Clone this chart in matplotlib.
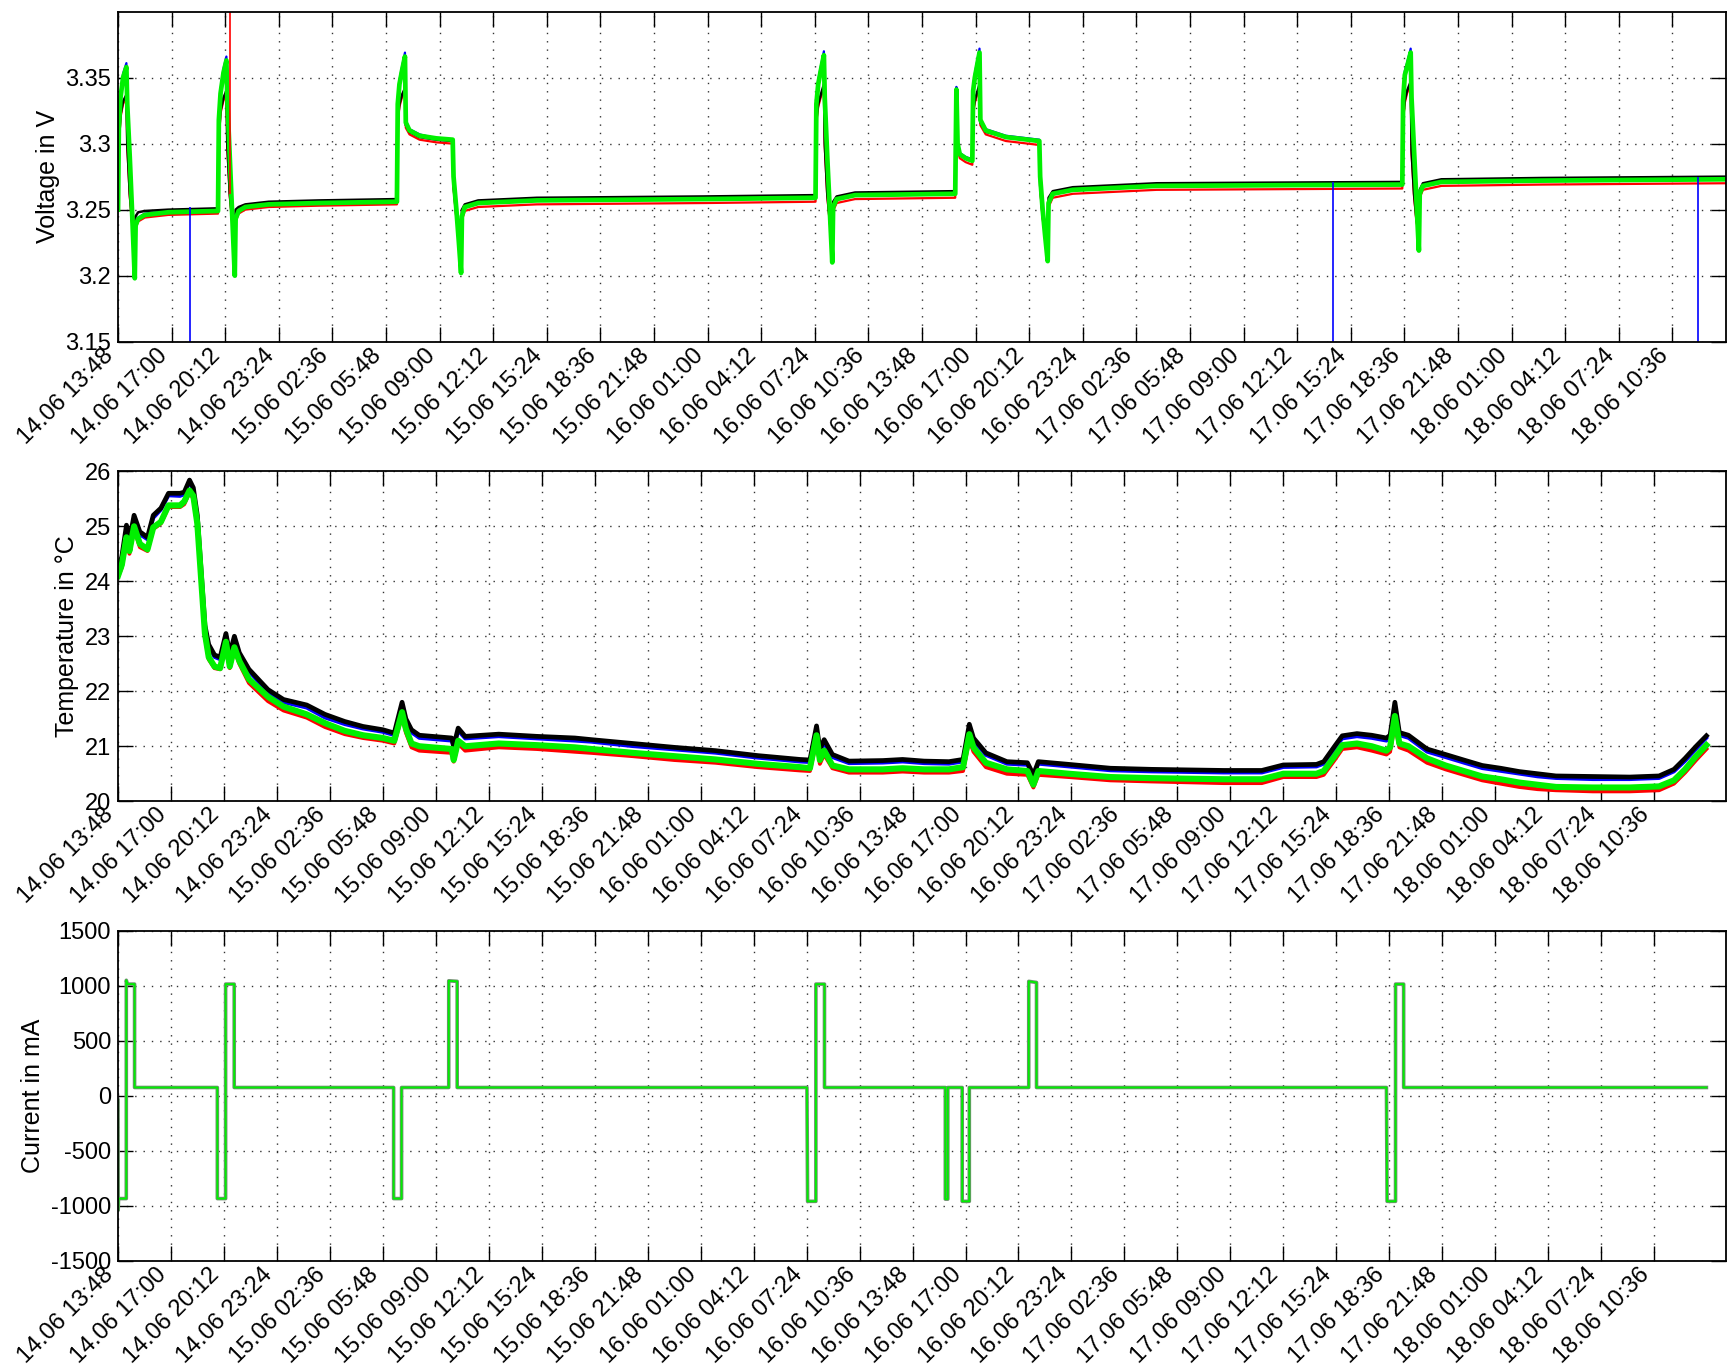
import matplotlib
matplotlib.use("Agg")
import matplotlib.pyplot as plt

plt.rcParams['font.family'] = ['Liberation Sans', 'DejaVu Sans']
plt.rcParams['axes.unicode_minus'] = False

# ---------------------------------------------------------------------------
# Time axis: hours since 14.06 13:48, ticks every 3 h 12 min
# ---------------------------------------------------------------------------
tick_labels = ["14.06 13:48", "14.06 17:00", "14.06 20:12", "14.06 23:24",
               "15.06 02:36", "15.06 05:48", "15.06 09:00", "15.06 12:12",
               "15.06 15:24", "15.06 18:36", "15.06 21:48", "16.06 01:00",
               "16.06 04:12", "16.06 07:24", "16.06 10:36", "16.06 13:48",
               "16.06 17:00", "16.06 20:12", "16.06 23:24", "17.06 02:36",
               "17.06 05:48", "17.06 09:00", "17.06 12:12", "17.06 15:24",
               "17.06 18:36", "17.06 21:48", "18.06 01:00", "18.06 04:12",
               "18.06 07:24", "18.06 10:36"]
tick_step_h = 3.2

# ---------------------------------------------------------------------------
# Cell voltages (V)
# ---------------------------------------------------------------------------
v_hours = [0.00, 0.05, 0.15, 0.30, 0.50, 0.55, 0.70, 0.85, 1.00, 1.05,
           1.20, 1.60, 3.00, 5.97, 6.02, 6.12, 6.30, 6.47, 6.52, 6.67,
           6.82, 6.97, 7.02, 7.20, 7.60, 9.00, 12.0, 16.65, 16.70, 16.80,
           16.95, 17.13, 17.18, 17.40, 18.00, 19.00, 19.98, 20.03, 20.20, 20.35,
           20.48, 20.53, 20.70, 21.50, 25.00, 35.00, 41.64, 41.69, 41.80, 41.95,
           42.14, 42.19, 42.34, 42.49, 42.64, 42.69, 42.90, 44.00, 49.98, 50.05,
           50.12, 50.25, 50.60, 51.00, 51.05, 51.15, 51.43, 51.48, 51.80, 53.00,
           55.00, 55.05, 55.20, 55.35, 55.50, 55.55, 55.80, 57.00, 62.00, 76.67,
           76.72, 76.82, 76.95, 77.17, 77.22, 77.37, 77.52, 77.66, 77.71, 77.90,
           79.00, 85.00, 96.00]

v_green = [3.250, 3.312, 3.335, 3.350, 3.358, 3.330, 3.290, 3.245, 3.198, 3.238,
           3.243, 3.246, 3.248, 3.249, 3.318, 3.338, 3.354, 3.363, 3.335, 3.290,
           3.245, 3.200, 3.243, 3.249, 3.252, 3.254, 3.255, 3.256, 3.330, 3.345,
           3.355, 3.366, 3.316, 3.310, 3.306, 3.304, 3.303, 3.275, 3.250, 3.225,
           3.202, 3.245, 3.252, 3.255, 3.257, 3.258, 3.259, 3.330, 3.345, 3.355,
           3.367, 3.335, 3.290, 3.250, 3.210, 3.252, 3.258, 3.261, 3.262, 3.341,
           3.300, 3.292, 3.289, 3.287, 3.340, 3.350, 3.369, 3.318, 3.310, 3.305,
           3.302, 3.275, 3.250, 3.230, 3.211, 3.255, 3.262, 3.265, 3.268, 3.269,
           3.333, 3.352, 3.358, 3.369, 3.335, 3.295, 3.255, 3.219, 3.262, 3.268,
           3.271, 3.272, 3.273]

v_black = [3.250, 3.300, 3.322, 3.332, 3.337, 3.300, 3.262, 3.240, 3.222, 3.245,
           3.248, 3.249, 3.250, 3.251, 3.305, 3.325, 3.335, 3.340, 3.300, 3.262,
           3.242, 3.225, 3.250, 3.252, 3.254, 3.256, 3.257, 3.258, 3.318, 3.330,
           3.337, 3.342, 3.314, 3.309, 3.305, 3.303, 3.302, 3.268, 3.245, 3.232,
           3.222, 3.250, 3.254, 3.257, 3.259, 3.260, 3.261, 3.318, 3.330, 3.337,
           3.345, 3.300, 3.262, 3.242, 3.225, 3.256, 3.260, 3.263, 3.264, 3.341,
           3.298, 3.292, 3.289, 3.288, 3.325, 3.333, 3.345, 3.316, 3.309, 3.305,
           3.302, 3.268, 3.245, 3.232, 3.224, 3.259, 3.264, 3.267, 3.270, 3.271,
           3.320, 3.333, 3.340, 3.347, 3.295, 3.262, 3.242, 3.236, 3.265, 3.270,
           3.273, 3.274, 3.275]

v_blue = [3.250, 3.315, 3.338, 3.353, 3.361, 3.332, 3.291, 3.246, 3.200, 3.239,
          3.244, 3.247, 3.249, 3.250, 3.321, 3.341, 3.357, 3.366, 3.337, 3.291,
          3.246, 3.202, 3.244, 3.250, 3.253, 3.255, 3.256, 3.257, 3.333, 3.348,
          3.358, 3.369, 3.317, 3.311, 3.307, 3.304, 3.303, 3.276, 3.251, 3.226,
          3.203, 3.246, 3.253, 3.256, 3.258, 3.259, 3.260, 3.333, 3.348, 3.358,
          3.370, 3.337, 3.291, 3.251, 3.211, 3.253, 3.259, 3.262, 3.263, 3.343,
          3.301, 3.293, 3.290, 3.288, 3.343, 3.353, 3.372, 3.319, 3.311, 3.306,
          3.303, 3.276, 3.251, 3.231, 3.212, 3.256, 3.263, 3.266, 3.269, 3.270,
          3.336, 3.355, 3.361, 3.372, 3.337, 3.296, 3.256, 3.220, 3.263, 3.269,
          3.272, 3.273, 3.274]

v_red = [3.250, 3.298, 3.320, 3.330, 3.335, 3.298, 3.260, 3.238, 3.220, 3.236,
         3.241, 3.244, 3.246, 3.247, 3.303, 3.323, 3.333, 3.338, 3.298, 3.260,
         3.240, 3.223, 3.241, 3.247, 3.250, 3.252, 3.253, 3.254, 3.316, 3.328,
         3.335, 3.340, 3.312, 3.307, 3.303, 3.301, 3.300, 3.266, 3.243, 3.230,
         3.220, 3.242, 3.249, 3.252, 3.254, 3.255, 3.256, 3.316, 3.328, 3.335,
         3.343, 3.298, 3.260, 3.240, 3.223, 3.249, 3.255, 3.258, 3.259, 3.339,
         3.296, 3.289, 3.286, 3.284, 3.323, 3.331, 3.343, 3.314, 3.307, 3.302,
         3.299, 3.266, 3.243, 3.230, 3.222, 3.252, 3.259, 3.262, 3.265, 3.266,
         3.318, 3.331, 3.338, 3.345, 3.293, 3.260, 3.240, 3.234, 3.259, 3.265,
         3.268, 3.269, 3.270]

# single-sample measurement glitches (time, from, to)
blue_glitch_hours = [4.32, 72.55, 94.35]
blue_glitch_from = [3.252, 3.271, 3.275]
blue_glitch_to = [3.10, 3.10, 3.10]
red_glitch_hours = [6.67]
red_glitch_from = [3.262]
red_glitch_to = [3.45]

# ---------------------------------------------------------------------------
# Cell temperatures (degC)
# ---------------------------------------------------------------------------
t_hours = [0.00, 0.23, 0.51, 0.69, 0.97, 1.32, 1.78, 2.13, 2.59, 3.05,
           3.75, 4.00, 4.32, 4.55, 4.79, 5.02, 5.25, 5.48, 5.83, 6.17,
           6.52, 6.75, 7.03, 7.33, 7.91, 9.06, 10.0, 11.4, 12.5, 13.7,
           14.8, 16.0, 16.69, 17.16, 17.39, 17.73, 18.2, 20.16, 20.28, 20.55,
           20.97, 23.0, 25.3, 27.6, 28.6, 31.1, 33.6, 36.1, 38.65, 41.2,
           41.8, 42.2, 42.4, 42.66, 43.16, 44.16, 46.2, 47.4, 48.7, 50.2,
           51.05, 51.43, 51.68, 52.43, 53.7, 54.94, 55.3, 55.6, 57.45, 59.96,
           62.45, 66.8, 69.1, 70.4, 72.4, 72.84, 73.5, 73.96, 74.85, 75.74,
           76.63, 76.85, 77.14, 77.41, 77.96, 79.08, 80.2, 81.3, 82.42, 83.53,
           84.65, 85.76, 86.87, 89.1, 91.33, 93.1, 94.0, 94.67, 95.34, 95.96]

t_black = [24.20, 24.45, 25.02, 24.75, 25.20, 24.90, 24.80, 25.20, 25.33, 25.60,
           25.60, 25.62, 25.84, 25.70, 25.20, 24.20, 23.20, 22.85, 22.66, 22.62,
           23.05, 22.68, 23.00, 22.70, 22.40, 22.03, 21.85, 21.75, 21.58, 21.45,
           21.36, 21.30, 21.24, 21.80, 21.50, 21.30, 21.20, 21.15, 21.00, 21.33,
           21.18, 21.22, 21.18, 21.15, 21.12, 21.05, 20.98, 20.92, 20.83, 20.76,
           20.75, 21.37, 20.95, 21.12, 20.85, 20.73, 20.74, 20.76, 20.73, 20.72,
           20.76, 21.40, 21.15, 20.88, 20.72, 20.70, 20.48, 20.72, 20.67, 20.60,
           20.58, 20.56, 20.56, 20.66, 20.67, 20.72, 21.00, 21.19, 21.23, 21.20,
           21.15, 21.20, 21.80, 21.25, 21.20, 20.95, 20.85, 20.75, 20.65, 20.60,
           20.54, 20.50, 20.46, 20.45, 20.44, 20.46, 20.58, 20.78, 21.00, 21.19]

t_blue = [24.18, 24.40, 24.98, 24.72, 25.15, 24.85, 24.76, 25.15, 25.30, 25.56,
          25.55, 25.58, 25.80, 25.66, 25.15, 24.15, 23.15, 22.80, 22.62, 22.58,
          23.02, 22.64, 22.97, 22.66, 22.36, 21.98, 21.80, 21.70, 21.52, 21.40,
          21.32, 21.26, 21.20, 21.76, 21.45, 21.25, 21.15, 21.10, 20.95, 21.28,
          21.14, 21.18, 21.14, 21.10, 21.08, 21.00, 20.94, 20.88, 20.79, 20.72,
          20.71, 21.30, 20.90, 21.05, 20.80, 20.69, 20.70, 20.72, 20.69, 20.68,
          20.72, 21.35, 21.10, 20.84, 20.68, 20.66, 20.44, 20.68, 20.63, 20.56,
          20.54, 20.52, 20.52, 20.62, 20.63, 20.68, 20.95, 21.14, 21.18, 21.15,
          21.10, 21.15, 21.72, 21.20, 21.15, 20.90, 20.80, 20.70, 20.60, 20.55,
          20.50, 20.45, 20.42, 20.40, 20.40, 20.42, 20.54, 20.73, 20.95, 21.15]

t_green = [24.10, 24.30, 24.80, 24.55, 25.00, 24.68, 24.58, 24.98, 25.08, 25.38,
           25.38, 25.45, 25.65, 25.55, 25.05, 24.05, 23.05, 22.62, 22.45, 22.42,
           22.90, 22.45, 22.80, 22.55, 22.22, 21.90, 21.72, 21.58, 21.42, 21.28,
           21.20, 21.15, 21.10, 21.62, 21.32, 21.05, 21.00, 20.95, 20.75, 21.10,
           21.00, 21.05, 21.02, 20.98, 20.95, 20.88, 20.82, 20.76, 20.68, 20.62,
           20.60, 21.20, 20.75, 20.92, 20.65, 20.58, 20.58, 20.60, 20.58, 20.58,
           20.62, 21.22, 20.98, 20.70, 20.58, 20.55, 20.30, 20.55, 20.50, 20.44,
           20.42, 20.40, 20.40, 20.50, 20.50, 20.55, 20.82, 21.02, 21.05, 21.00,
           20.92, 20.98, 21.55, 21.05, 21.00, 20.78, 20.65, 20.55, 20.45, 20.40,
           20.34, 20.30, 20.26, 20.25, 20.25, 20.27, 20.38, 20.58, 20.82, 21.02]

t_red = [24.08, 24.25, 24.75, 24.50, 24.95, 24.62, 24.55, 24.95, 25.05, 25.35,
         25.35, 25.40, 25.62, 25.50, 25.00, 24.00, 23.00, 22.58, 22.42, 22.40,
         22.85, 22.42, 22.75, 22.50, 22.15, 21.82, 21.65, 21.52, 21.35, 21.22,
         21.15, 21.10, 21.05, 21.55, 21.25, 20.98, 20.92, 20.88, 20.72, 21.05,
         20.92, 20.98, 20.95, 20.90, 20.88, 20.82, 20.75, 20.70, 20.62, 20.56,
         20.55, 21.10, 20.68, 20.85, 20.60, 20.52, 20.52, 20.54, 20.52, 20.52,
         20.55, 21.12, 20.90, 20.62, 20.50, 20.48, 20.25, 20.48, 20.44, 20.38,
         20.36, 20.33, 20.33, 20.44, 20.44, 20.48, 20.75, 20.95, 20.98, 20.92,
         20.85, 20.90, 21.40, 20.98, 20.92, 20.70, 20.58, 20.48, 20.38, 20.32,
         20.26, 20.22, 20.20, 20.18, 20.18, 20.20, 20.32, 20.52, 20.75, 20.95]

# ---------------------------------------------------------------------------
# String current (mA)
# ---------------------------------------------------------------------------
c_hours = [0.00, 0.01, 0.03, 0.50, 0.50, 0.56, 1.00, 1.00, 6.00, 6.00,
           6.50, 6.50, 7.02, 7.02, 16.65, 16.65, 17.13, 17.13, 19.98, 19.98,
           20.49, 20.49, 41.62, 41.66, 42.16, 42.16, 42.68, 42.68, 49.98, 49.98,
           50.13, 50.13, 51.00, 51.00, 51.43, 51.43, 55.02, 55.02, 55.49, 55.49,
           76.63, 76.67, 77.18, 77.18, 77.67, 77.67, 95.96]
c_ma = [-40, -1040, -935, -935, 1050, 1015, 1015, 75, 75, -935,
        -935, 1015, 1015, 75, 75, -935, -935, 75, 75, 1045,
        1040, 75, 75, -960, -960, 1015, 1015, 75, 75, -940,
        -940, 75, 75, -960, -960, 75, 75, 1040, 1030, 75,
        75, -960, -960, 1015, 1015, 75, 75]

# ---------------------------------------------------------------------------
BLUE, RED, BLACK, GREEN = '#0000ff', '#ff0000', '#000000', '#00f000'
FS_TICK = 17
FS_LABEL = 18

fig = plt.figure(figsize=(17.28, 13.72), dpi=100)
ax_v = fig.add_axes([0.0683, 0.751, 0.9306, 0.2405])
ax_t = fig.add_axes([0.0683, 0.416, 0.9306, 0.2405])
ax_c = fig.add_axes([0.0683, 0.0811, 0.9306, 0.2405])

tick_hours = [i * tick_step_h for i in range(len(tick_labels))]


def style_axes(ax, xmax, yticks, yticklabels, ylim, ylabel):
    ax.set_xlim(0, xmax)
    ax.set_ylim(*ylim)
    ax.set_xticks(tick_hours)
    ax.set_xticklabels(tick_labels, rotation=45, ha='right', va='top')
    ax.set_yticks(yticks)
    ax.set_yticklabels(yticklabels)
    ax.tick_params(axis='both', direction='in', length=11, width=1.0,
                   top=True, right=True, labelsize=FS_TICK, color='black')
    ax.tick_params(axis='x', pad=2)
    ax.tick_params(axis='y', pad=5)
    ax.grid(True, color='0.2', linestyle=(0, (1, 5)), linewidth=1.0)
    ax.set_axisbelow(True)
    for sp in ax.spines.values():
        sp.set_linewidth(1.3)
    ax.set_ylabel(ylabel, fontsize=FS_LABEL)


# voltage
ax_v.plot(v_hours, v_blue, color=BLUE, lw=1.6)
ax_v.plot(v_hours, v_red, color=RED, lw=1.6)
ax_v.plot(v_hours, v_black, color=BLACK, lw=1.8)
ax_v.plot(v_hours, v_green, color=GREEN, lw=3.4)
ax_v.vlines(blue_glitch_hours, blue_glitch_to, blue_glitch_from, color=BLUE, lw=1.2)
ax_v.vlines(red_glitch_hours, red_glitch_from, red_glitch_to, color=RED, lw=1.2)
style_axes(ax_v, 96.0, [3.15, 3.2, 3.25, 3.3, 3.35],
           ['3.15', '3.2', '3.25', '3.3', '3.35'], (3.15, 3.40), 'Voltage in V')

# temperature
ax_t.plot(t_hours, t_blue, color=BLUE, lw=2.6)
ax_t.plot(t_hours, t_red, color=RED, lw=2.8)
ax_t.plot(t_hours, t_black, color=BLACK, lw=3.4)
ax_t.plot(t_hours, t_green, color=GREEN, lw=4.4)
style_axes(ax_t, 97.15, [20, 21, 22, 23, 24, 25, 26],
           ['20', '21', '22', '23', '24', '25', '26'], (20, 26), 'Temperature in °C')

# current
ax_c.plot(c_hours, c_ma, color='#6f8f6f', lw=2.6)
ax_c.plot(c_hours, c_ma, color=GREEN, lw=1.3)
style_axes(ax_c, 97.15, [-1500, -1000, -500, 0, 500, 1000, 1500],
           ['-1500', '-1000', '-500', '0', '500', '1000', '1500'], (-1500, 1500),
           'Current in mA')

fig.savefig('out.png', dpi=100)
